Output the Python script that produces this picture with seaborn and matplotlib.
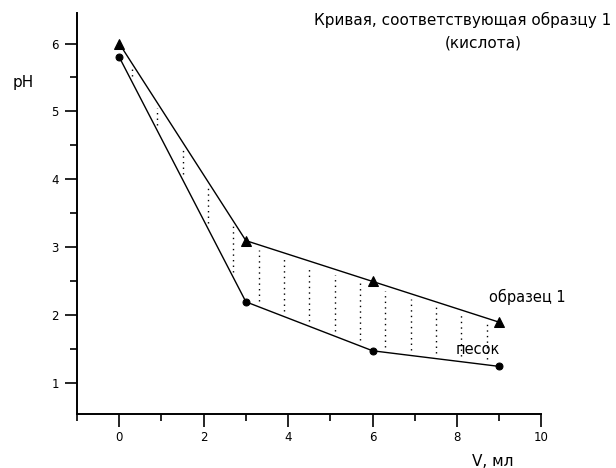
import numpy as np
import pandas as pd
import matplotlib
matplotlib.use("Agg")
import matplotlib.pyplot as plt
from matplotlib.ticker import MultipleLocator
import seaborn as sns

# Titration data: added volume (ml) and measured pH
volume = [0, 3, 6, 9]
ph_sample = [6.0, 3.1, 2.5, 1.9]   # образец 1
ph_sand = [5.8, 2.2, 1.48, 1.25]   # песок

sns.set_style("ticks")
plt.rcParams["font.family"] = ["DejaVu Sans"]
plt.rcParams["text.color"] = "black"

df = pd.DataFrame({
    "V": volume * 2,
    "pH": ph_sample + ph_sand,
    "series": ["образец 1"] * len(volume) + ["песок"] * len(volume),
})

fig = plt.figure(figsize=(6.16, 4.68), dpi=100)
ax = fig.add_axes([0.125, 0.1154, 0.754, 0.857])

sns.lineplot(data=df[df.series == "образец 1"], x="V", y="pH",
             marker="^", markersize=7, color="black", linewidth=1.0,
             markeredgecolor="black", ax=ax)
sns.lineplot(data=df[df.series == "песок"], x="V", y="pH",
             marker="o", markersize=5, color="black", linewidth=1.0,
             markeredgecolor="black", ax=ax)

# dotted hatching between the two curves
xs = np.arange(0.3, 9.01, 0.6)
top = np.interp(xs, volume, ph_sample)
bot = np.interp(xs, volume, ph_sand)
ax.vlines(xs, bot + 0.08, top - 0.08, colors="black", linestyles=(0, (1, 3)),
          linewidth=1.0)

ax.set_xlim(-1, 10)
ax.set_ylim(0.55, 6.45)
ax.xaxis.set_major_locator(MultipleLocator(2))
ax.xaxis.set_minor_locator(MultipleLocator(1))
ax.yaxis.set_major_locator(MultipleLocator(1))
ax.yaxis.set_minor_locator(MultipleLocator(0.5))
ax.tick_params(which="major", length=9, width=1.2, labelsize=8.5,
               color="black", labelcolor="black")
ax.tick_params(which="minor", length=5, width=1.2, color="black")
ax.tick_params(axis="y", pad=4)
for s in ("left", "bottom"):
    ax.spines[s].set_linewidth(1.4)
    ax.spines[s].set_color("black")
sns.despine(ax=ax)

ax.set_xlabel("")
ax.set_ylabel("")
fig.text(0.037, 0.823, "pH", fontsize=11, ha="center", va="center")
fig.text(0.8, 0.014, "V, мл", fontsize=11, ha="center", va="center")

ax.text(9.67, 2.27, "образец 1", fontsize=10.5, ha="center", va="center")
ax.text(8.49, 1.5, "песок", fontsize=10.5, ha="center", va="center")
fig.text(0.993, 0.957, "Кривая, соответствующая образцу 1", fontsize=11,
         ha="right", va="center")
fig.text(0.784, 0.908, "(кислота)", fontsize=11, ha="center", va="center")

fig.savefig("out.png", dpi=100)
